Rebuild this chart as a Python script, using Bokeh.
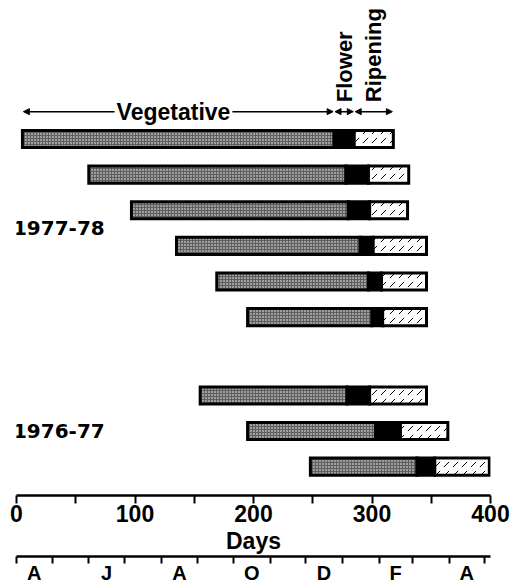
import math
from bokeh.plotting import figure
from bokeh.models import (Range1d, FixedTicker, LinearAxis, Label, Arrow,
                          NormalHead, ColumnDataSource)
from bokeh.embed import file_html
from bokeh.resources import INLINE

# ---------------- data (days from 1 April) ----------------
seasons    = ["1977-78"] * 6 + ["1976-77"] * 3
veg_start  = [5, 61, 97, 135, 169, 195, 155, 195, 248]
veg_end    = [268, 278, 280, 290, 297, 300, 279, 303, 338]
flower_end = [285, 297, 298, 301, 308, 309, 298, 324, 353]
ripe_end   = [318, 331, 330, 346, 346, 346, 346, 364, 399]

day_ticks = [0, 100, 200, 300, 400]
day_minor = [50, 150, 250, 350]

month_letters = ["A", "M", "J", "J", "A", "S", "O", "N", "D", "J", "F", "M", "A"]
month_days    = [30, 31, 30, 31, 31, 30, 31, 30, 31, 31, 28, 31, 30]

stage_names = ["Vegetative", "Flower", "Ripening"]

# ---------------- layout helpers ----------------
FONT = "Liberation Sans"
FONT2 = "DejaVu Sans"
BAR_H = 0.48
GROUP_GAP = 1.2

rows = []
r = 0.0
prev = None
for s in seasons:
    if prev is not None and s != prev:
        r += GROUP_GAP
    rows.append(r)
    r += 1
    prev = s

top = [y - BAR_H / 2 for y in rows]
bot = [y + BAR_H / 2 for y in rows]

src = ColumnDataSource(dict(vs=veg_start, ve=veg_end, fe=flower_end, re=ripe_end,
                            top=top, bot=bot))

p = figure(frame_width=474, frame_height=487,
           x_range=Range1d(0, 400), y_range=Range1d(10.01, -3.666),
           output_backend="svg", toolbar_location=None,
           min_border_left=16, min_border_right=30, min_border_top=8, min_border_bottom=0,
           y_axis_type=None)
p.outline_line_color = None
p.xgrid.visible = False
p.ygrid.visible = False
p.background_fill_color = "white"
p.border_fill_color = "white"

# vegetative (stippled)
p.quad(left="vs", right="ve", top="top", bottom="bot", source=src,
       fill_color="#5e5e5e", hatch_pattern="dot", hatch_color="white",
       hatch_scale=3, hatch_weight=1,
       line_color="black", line_width=3, line_join="miter")
# flowering (solid black)
p.quad(left="ve", right="fe", top="top", bottom="bot", source=src,
       fill_color="black", line_color="black", line_width=3, line_join="miter")
# ripening (white with dashes)
p.quad(left="fe", right="re", top="top", bottom="bot", source=src,
       fill_color="white", hatch_pattern="right_diagonal_dash", hatch_color="black",
       hatch_scale=9, hatch_weight=1,
       line_color="black", line_width=3, line_join="miter")

# ---------------- stage arrows over the first bar ----------------
ARROW_ROW = -0.77
bounds = [veg_start[0], veg_end[0], flower_end[0], ripe_end[0]]
for a, b in zip(bounds[:-1], bounds[1:]):
    p.add_layout(Arrow(x_start=a + 0.8, x_end=b - 0.8, y_start=ARROW_ROW, y_end=ARROW_ROW,
                       line_color="black", line_width=1.5,
                       start=NormalHead(size=6, fill_color="black", line_color="black"),
                       end=NormalHead(size=6, fill_color="black", line_color="black")))

p.add_layout(Label(x=(bounds[0] + bounds[1]) / 2 - 4, y=ARROW_ROW, text=stage_names[0],
                   text_align="center", text_baseline="middle",
                   text_font=FONT, text_font_style="bold", text_font_size="23px",
                   text_color="black", background_fill_color="white", padding=2))
for i in (1, 2):
    p.add_layout(Label(x=(bounds[i] + bounds[i + 1]) / 2, y=-1.034, text=stage_names[i],
                       angle=math.pi / 2, text_align="left", text_baseline="middle",
                       text_font=FONT, text_font_style="bold", text_font_size="22px",
                       text_color="black"))

# ---------------- season labels ----------------
for season in dict.fromkeys(seasons):
    ys = [y for y, s in zip(rows, seasons) if s == season]
    p.add_layout(Label(x=-3, y=sum(ys) / len(ys), text=season,
                       text_align="left", text_baseline="middle",
                       text_font=FONT2, text_font_style="bold", text_font_size="20px",
                       text_color="black"))

# ---------------- days axis ----------------
ax = p.xaxis[0]
ax.ticker = FixedTicker(ticks=day_ticks, minor_ticks=day_minor)
ax.axis_line_width = 2.5
ax.major_tick_line_width = 2
ax.minor_tick_line_width = 2
ax.major_tick_in = 0
ax.major_tick_out = 8
ax.minor_tick_in = 0
ax.minor_tick_out = 8
ax.major_label_standoff = 1
ax.major_label_text_font = FONT
ax.major_label_text_font_style = "bold"
ax.major_label_text_font_size = "23px"
ax.major_label_text_color = "black"
ax.axis_label = "Days"
ax.axis_label_text_font = FONT
ax.axis_label_text_font_size = "23px"
ax.axis_label_text_font_style = "bold"
ax.axis_label_text_color = "black"
ax.axis_label_standoff = 3

# ---------------- month axis ----------------
month_starts = [0]
for d in month_days:
    month_starts.append(month_starts[-1] + d)
labelled = list(range(0, len(month_letters), 2))
centers = [month_starts[i] + month_days[i] / 2 for i in labelled]
overrides = {c: month_letters[i] for c, i in zip(centers, labelled)}

max_ = LinearAxis(ticker=FixedTicker(ticks=centers, minor_ticks=month_starts),
                  major_label_overrides=overrides)
max_.axis_line_width = 2.5
max_.major_tick_in = 0
max_.major_tick_out = 0
max_.minor_tick_in = 0
max_.minor_tick_out = 7
max_.minor_tick_line_width = 2
max_.major_label_standoff = -2
max_.major_label_text_font = FONT
max_.major_label_text_font_style = "bold"
max_.major_label_text_font_size = "20px"
max_.major_label_text_color = "black"
p.add_layout(max_, "below")

open("out.html", "w").write(file_html(p, INLINE))
